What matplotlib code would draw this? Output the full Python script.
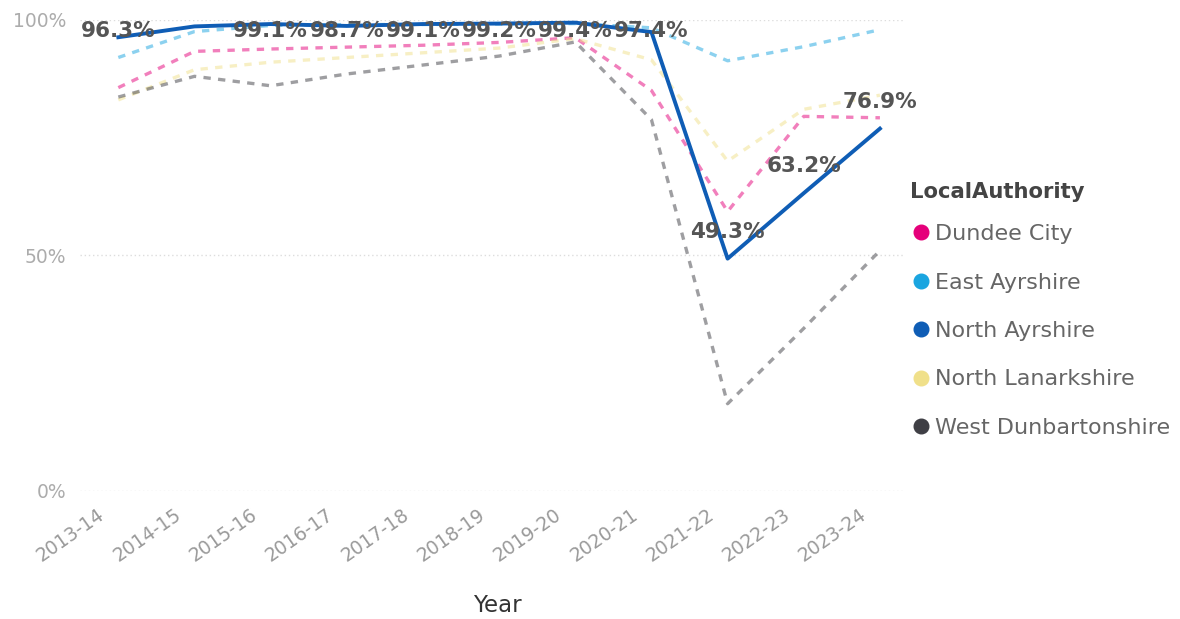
import matplotlib
matplotlib.use("Agg")
import matplotlib.pyplot as plt
import matplotlib.transforms as mtransforms
from matplotlib.lines import Line2D

plt.rcParams['font.family'] = ['DejaVu Sans']

years = ["2013-14", "2014-15", "2015-16", "2016-17", "2017-18", "2018-19",
         "2019-20", "2020-21", "2021-22", "2022-23", "2023-24"]

# percentage of each authority per year
dundee_city = [85.6, 93.3, 93.8, 94.2, 94.6, 95.2, 96.2, 85.0, 59.3, 79.5, 79.2]
east_ayrshire = [92.0, 97.5, 98.8, 99.0, 99.0, 99.1, 99.2, 98.3, 91.3, 94.3, 97.9]
north_ayrshire = [96.3, 98.6, 99.1, 98.7, 99.1, 99.2, 99.4, 97.4, 49.3, 63.2, 76.9]
north_lanarkshire = [83.0, 89.4, 91.0, 92.0, 93.0, 94.0, 96.0, 91.5, 70.0, 81.0, 84.0]
west_dunbartonshire = [83.6, 88.0, 86.0, 88.5, 90.4, 92.3, 95.3, 78.8, 18.5, 34.5, 51.0]

authorities = ["Dundee City", "East Ayrshire", "North Ayrshire",
               "North Lanarkshire", "West Dunbartonshire"]
colors = ["#E5007A", "#1AA5E0", "#0F5DB5", "#F0E08A", "#3F3F45"]

# which points carry a value label on the highlighted series
labelled = [0, 2, 3, 4, 5, 6, 7, 8, 9, 10]

fig = plt.figure(figsize=(11.8, 6.19), dpi=100)
ax = fig.add_axes([0.068, 0.207, 0.699, 0.761])

x = list(range(len(years)))

# faded dashed series first
faded = [(dundee_city, colors[0]), (east_ayrshire, colors[1]),
         (north_lanarkshire, colors[3]), (west_dunbartonshire, colors[4])]
for vals, c in faded:
    ax.plot(x, vals, color=c, lw=2.4, ls=(0, (2.2, 2.2)), alpha=0.5,
            solid_capstyle="butt", clip_on=False, zorder=2)

ax.plot(x, north_ayrshire, color=colors[2], lw=2.8, clip_on=False, zorder=3)

for i in labelled:
    v = north_ayrshire[i]
    ax.text(i, min(v + 5.7, 97.6), f"{v:.1f}%", ha="center", va="center",
            fontsize=15.5, fontweight="bold", color="#555555", zorder=4)

ax.set_xlim(-0.5, 10.33)
ax.set_ylim(0, 100)
ax.set_yticks([0, 50, 100])
ax.set_yticklabels(["0%", "50%", "100%"])
ax.set_xticks(x)
ax.set_xticklabels(years, rotation=35, ha="right", va="top",
                   rotation_mode="anchor")
ax.tick_params(axis="y", length=0, labelsize=13.5, colors="#acacac", pad=10)
ax.tick_params(axis="x", length=0, labelsize=13.5, colors="#9a9a9a", pad=10)

# shift the slanted year labels a little to the left of their ticks
shift = mtransforms.ScaledTranslation(-21 / 100, 0, fig.dpi_scale_trans)
for lab in ax.get_xticklabels():
    lab.set_transform(lab.get_transform() + shift)

ax.grid(axis="y", color="#dddddd", ls=(0, (1, 2)), lw=1)
ax.set_axisbelow(True)
for s in ax.spines.values():
    s.set_visible(False)

ax.set_xlabel("Year", fontsize=16.5, color="#333333", labelpad=21)
ax.xaxis.label.set_x(0.506)

# legend title sits apart from the entries
fig.text(0.771, 0.690, "LocalAuthority", ha="left", va="center",
         fontsize=15.2, fontweight="bold", color="#444444")

handles = [Line2D([], [], ls="none", marker="o", markersize=10.5,
                  markerfacecolor=c, markeredgecolor=c) for c in colors]
leg = fig.legend(handles, authorities, loc="upper left",
                 bbox_to_anchor=(0.7754, 0.638),
                 frameon=False, fontsize=16, borderpad=0,
                 labelspacing=1.28, handlelength=0.55, handletextpad=0.36,
                 borderaxespad=0)
for t in leg.get_texts():
    t.set_color("#666666")

fig.savefig("out.png", dpi=100, facecolor="white")
